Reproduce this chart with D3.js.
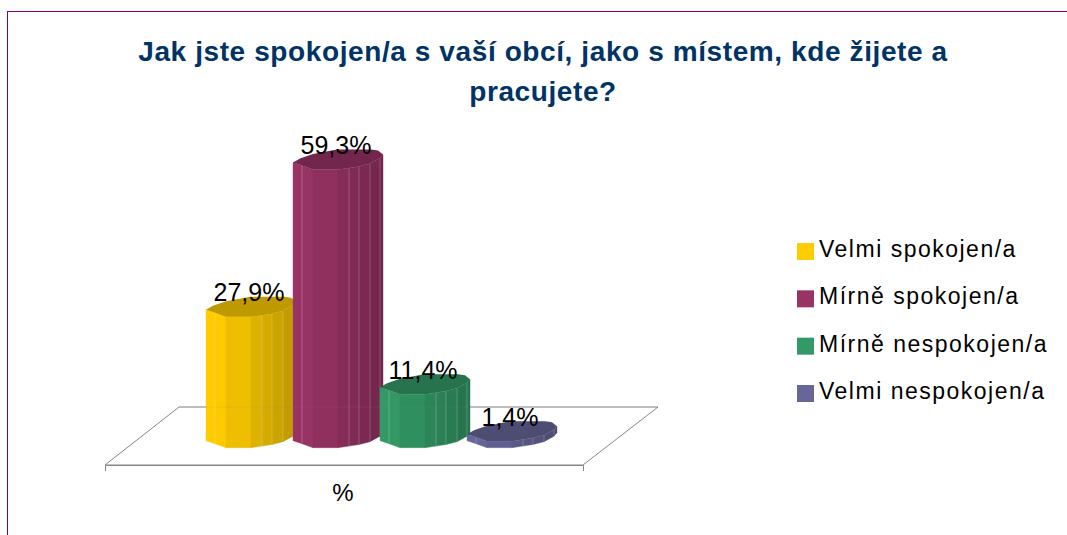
<!DOCTYPE html>
<html><head><meta charset="utf-8">
<script src="https://cdn.jsdelivr.net/npm/d3@7"></script>
<style>html,body{margin:0;padding:0;background:#fff;overflow:hidden}svg{display:block}text{font-family:"Liberation Sans",Arial,sans-serif}</style>
</head><body><svg id="c" width="1067" height="535"></svg>
<script>
const titleLines = ["Jak jste spokojen/a s vaší obcí, jako s místem, kde žijete a", "pracujete?"];
const categories = ["Velmi spokojen/a", "Mírně spokojen/a", "Mírně nespokojen/a", "Velmi nespokojen/a"];
const values = [27.9, 59.3, 11.4, 1.4];
const valueLabels = ["27,9%", "59,3%", "11,4%", "1,4%"];
const colors = ["#FFCC00", "#993366", "#339966", "#666699"];
const axisCategory = ["%"];

// prism outline, relative to a bar's left edge and its lowest front point
const frontOutline = [[0,-7],[9,-4],[20,0],[45,0],[56,-1.6],[66,-3.2],[77,-6],[87,-11.5],[90,-15]];
const backOutline = [[85,-19],[78,-20],[44,-20],[20,-15.5],[7,-11]];
const barWidth = 90;

const svg = d3.select("#c");
const x = d3.scaleBand().domain(categories).range([206, 554]);
const y = d3.scaleLinear().domain([0, 100]).range([447.7, -21.3]);
const shade = d3.scaleLinear().domain([12, barWidth]).range([1, 0.74]).clamp(true);
const tint = (c, k) => { const r = d3.rgb(c); return d3.rgb(r.r*k, r.g*k, r.b*k).formatHex(); };
const pts = a => a.map(p => p.join(",")).join(" ");

svg.append("rect").attr("x", 7.5).attr("y", 11.5).attr("width", 1080).attr("height", 540)
  .attr("fill", "#fff").attr("stroke", "#800080").attr("stroke-width", 1);

svg.append("g").selectAll("text").data(titleLines).join("text")
  .attr("x", 543).attr("y", (d, i) => 61 + i * 40).attr("text-anchor", "middle")
  .attr("font-size", 28).attr("letter-spacing", 0.6).attr("font-weight", "bold").attr("fill", "#003366").text(d => d);

// floor
const floor = {fl: 105, fr: 583, fy: 465, bl: 179, br: 658, by: 407};
svg.append("polygon")
  .attr("points", pts([[floor.fl,floor.fy],[floor.bl,floor.by],[floor.br,floor.by],[floor.fr,floor.fy]]))
  .attr("fill", "none").attr("stroke", "#868686").attr("stroke-width", 1);

const axisX = d3.scaleBand().domain(axisCategory).range([floor.fl, floor.fr]);
const axis = svg.append("g").attr("transform", `translate(-1,${floor.fy})`)
  .call(d3.axisBottom(axisX).tickSize(0).tickSizeOuter(6).tickPadding(19));
axis.select(".domain").attr("stroke", "#868686").attr("transform", "translate(1,0)");
axis.selectAll("text").attr("font-size", 24).attr("fill", "#000").attr("font-family", '"Liberation Sans"');

// bars
const bars = svg.append("g").selectAll("g").data(categories).join("g");
bars.each(function (c, i) {
  const g = d3.select(this), left = x(c), baseY = y(0), topY = y(values[i]);
  d3.range(frontOutline.length - 1).forEach(k => {
    const a = frontOutline[k], b = frontOutline[k + 1];
    const fill = tint(colors[i], shade((a[0] + b[0]) / 2));
    g.append("polygon")
      .attr("points", pts([[left+a[0],topY+a[1]],[left+b[0],topY+b[1]],[left+b[0],baseY+b[1]],[left+a[0],baseY+a[1]]]))
      .attr("fill", fill).attr("stroke", fill).attr("stroke-width", 0.4);
    if (k > 0 && k !== 2 && k !== 3) {
      g.append("line").attr("x1", left+a[0]).attr("x2", left+a[0])
        .attr("y1", topY+a[1]).attr("y2", baseY+a[1])
        .attr("stroke", "#fff").attr("stroke-opacity", 0.22).attr("stroke-width", 1);
    }
  });
  const cap = frontOutline.concat(backOutline).map(p => [left + p[0], topY + p[1]]);
  g.append("polygon").attr("points", pts(cap)).attr("fill", tint(colors[i], 0.75));
  g.append("text").attr("x", left + 43).attr("y", topY - 15.5).attr("text-anchor", "middle")
    .attr("font-size", 25).attr("fill", "#000").text(valueLabels[i]);
});

// faint back edge of the floor showing through the bars
svg.append("line").attr("x1", floor.bl).attr("x2", floor.br).attr("y1", floor.by).attr("y2", floor.by)
  .attr("stroke", "#868686").attr("stroke-opacity", 0.15);

// legend
const legendY = d3.scalePoint().domain(categories).range([243, 385]);
const legend = svg.append("g").selectAll("g").data(categories).join("g")
  .attr("transform", c => `translate(797,${legendY(c)})`);
legend.append("rect").attr("width", 17).attr("height", 17).attr("fill", (c, i) => colors[i]);
legend.append("text").attr("x", 22).attr("y", 14).attr("font-size", 23).attr("letter-spacing", 1.5)
  .attr("fill", "#000").text(c => c);
</script></body></html>
